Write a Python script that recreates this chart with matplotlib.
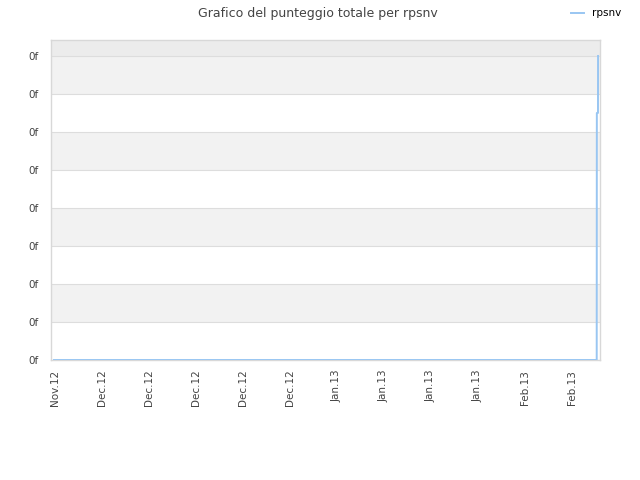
import matplotlib
matplotlib.use("Agg")
import matplotlib.pyplot as plt

# data (x in days since 26 Nov 2012)
days = [-0.15, 80.68, 80.70, 80.87, 80.88]
scores = [0, 0, 6.5, 6.5, 8]
tick_days = [0, 7, 14, 21, 28, 35, 42, 49, 56, 63, 70, 77]
tick_labels = ["Nov.12", "Dec.12", "Dec.12", "Dec.12", "Dec.12", "Dec.12",
               "Jan.13", "Jan.13", "Jan.13", "Jan.13", "Feb.13", "Feb.13"]
y_ticks = [0, 1, 2, 3, 4, 5, 6, 7, 8]
y_labels = ["0f"] * len(y_ticks)

fig = plt.figure(figsize=(6.4, 4.8), dpi=100)
ax = fig.add_axes([51/640, 120/480, 549/640, 320/480])
ax.set_xlim(-0.6, 81.17)
ax.set_ylim(0, 8.42)

# alternating bands
for lo in [1, 3, 5, 7]:
    ax.axhspan(lo, lo + 1, color="#f2f2f2", zorder=0, lw=0)
ax.axhspan(8, 8.42, color="#ececec", zorder=0, lw=0)
for y in y_ticks:
    ax.axhline(y, color="#dddddd", lw=0.8, zorder=1)

ax.plot(days, scores, color="#99c6f2", lw=1.4, label="rpsnv", zorder=3)

ax.set_xticks(tick_days)
ax.set_xticklabels(tick_labels, rotation=90, fontsize=7.5, color="#444444")
ax.set_yticks(y_ticks)
ax.set_yticklabels(y_labels, fontsize=7.5, color="#444444")
ax.tick_params(axis="x", length=0, pad=7)
ax.tick_params(axis="y", length=0, pad=9)
for s in ax.spines.values():
    s.set_color("#d8d8d8")
    s.set_linewidth(1)

fig.text(0.497, 0.972, "Grafico del punteggio totale per rpsnv", ha="center",
         va="center", fontsize=9, color="#444444")
fig.legend(loc="center", bbox_to_anchor=(0.932, 0.972), frameon=False,
           fontsize=7.5, handlelength=1.2, handletextpad=0.8)

fig.savefig("out.png", dpi=100)
